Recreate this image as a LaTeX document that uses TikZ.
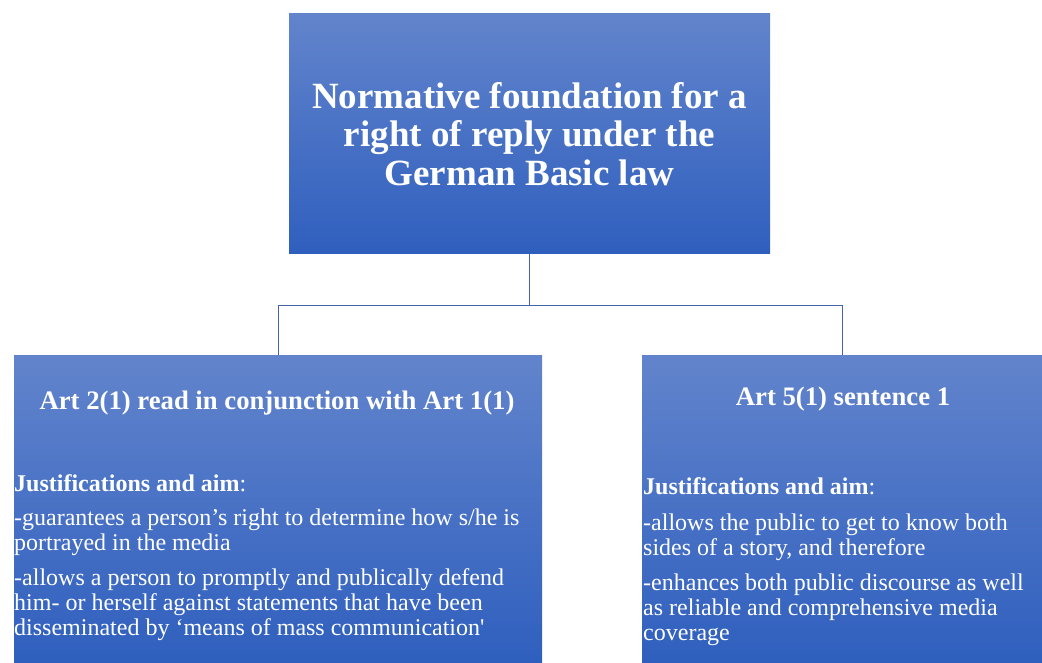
\documentclass[tikz,border=0pt]{standalone}
\usepackage{fontspec}
\setmainfont{Liberation Serif}
\usepackage{tikz}
\usetikzlibrary{positioning}
\definecolor{boxtop}{RGB}{98,132,204}
\definecolor{boxbottom}{RGB}{47,95,190}
\definecolor{linkblue}{RGB}{68,100,168}
\tikzstyle{blue_box} = [rectangle, inner sep=0pt, outer sep=0pt, top color=boxtop, bottom color=boxbottom, draw=none]
\tikzstyle{root_text} = [text=white, align=center, font=\bfseries\fontsize{37}{38.5}\selectfont]
\tikzstyle{head_text} = [text=white, inner sep=0pt, font=\bfseries\fontsize{26.7}{30}\selectfont]
\tikzstyle{body_text} = [text=white, inner sep=0pt, align=left, anchor=north west, font=\fontsize{24}{25}\selectfont]
\tikzstyle{link} = [draw=linkblue, line width=1pt]

\begin{document}
\begin{tikzpicture}[x=1pt, y=-1pt]
        \useasboundingbox (0,0) rectangle (1042,663);
        \node(root) [blue_box, minimum width=481pt, minimum height=240pt] at (529.5,134) {};
        \node(art2) [blue_box, minimum width=528pt, minimum height=308pt] at (278,509) {};
        \node(art5) [blue_box, minimum width=400pt, minimum height=308pt] at (842,509) {};

        \node(roottitle) [root_text] at (root.center) {Normative foundation for a\\right of reply under the\\German Basic law};

        \node(art2head) [head_text, anchor=base] at (277,409) {Art 2(1) read in conjunction with Art 1(1)};
        \node(art2body) [body_text] at (14,474) {\textbf{Justifications and aim}:\\[9pt]
                -guarantees a person’s right to determine how s/he is\\
                portrayed in the media\\[10pt]
                -allows a person to promptly and publically defend\\
                him- or herself against statements that have been\\
                disseminated by ‘means of mass communication\textquotesingle};

        \node(art5head) [head_text, anchor=base] at (843,405) {Art 5(1) sentence 1};
        \node(art5body) [body_text] at (643,477) {\textbf{Justifications and aim}:\\[11pt]
                -allows the public to get to know both\\
                sides of a story, and therefore\\[10pt]
                -enhances both public discourse as well\\
                as reliable and comprehensive media\\
                coverage};

        \draw[link] (root.south) -- ++(0,51) coordinate(fork) -| (art2.north);
        \draw[link] (fork) -| (art5.north);
    \end{tikzpicture}
\end{document}
